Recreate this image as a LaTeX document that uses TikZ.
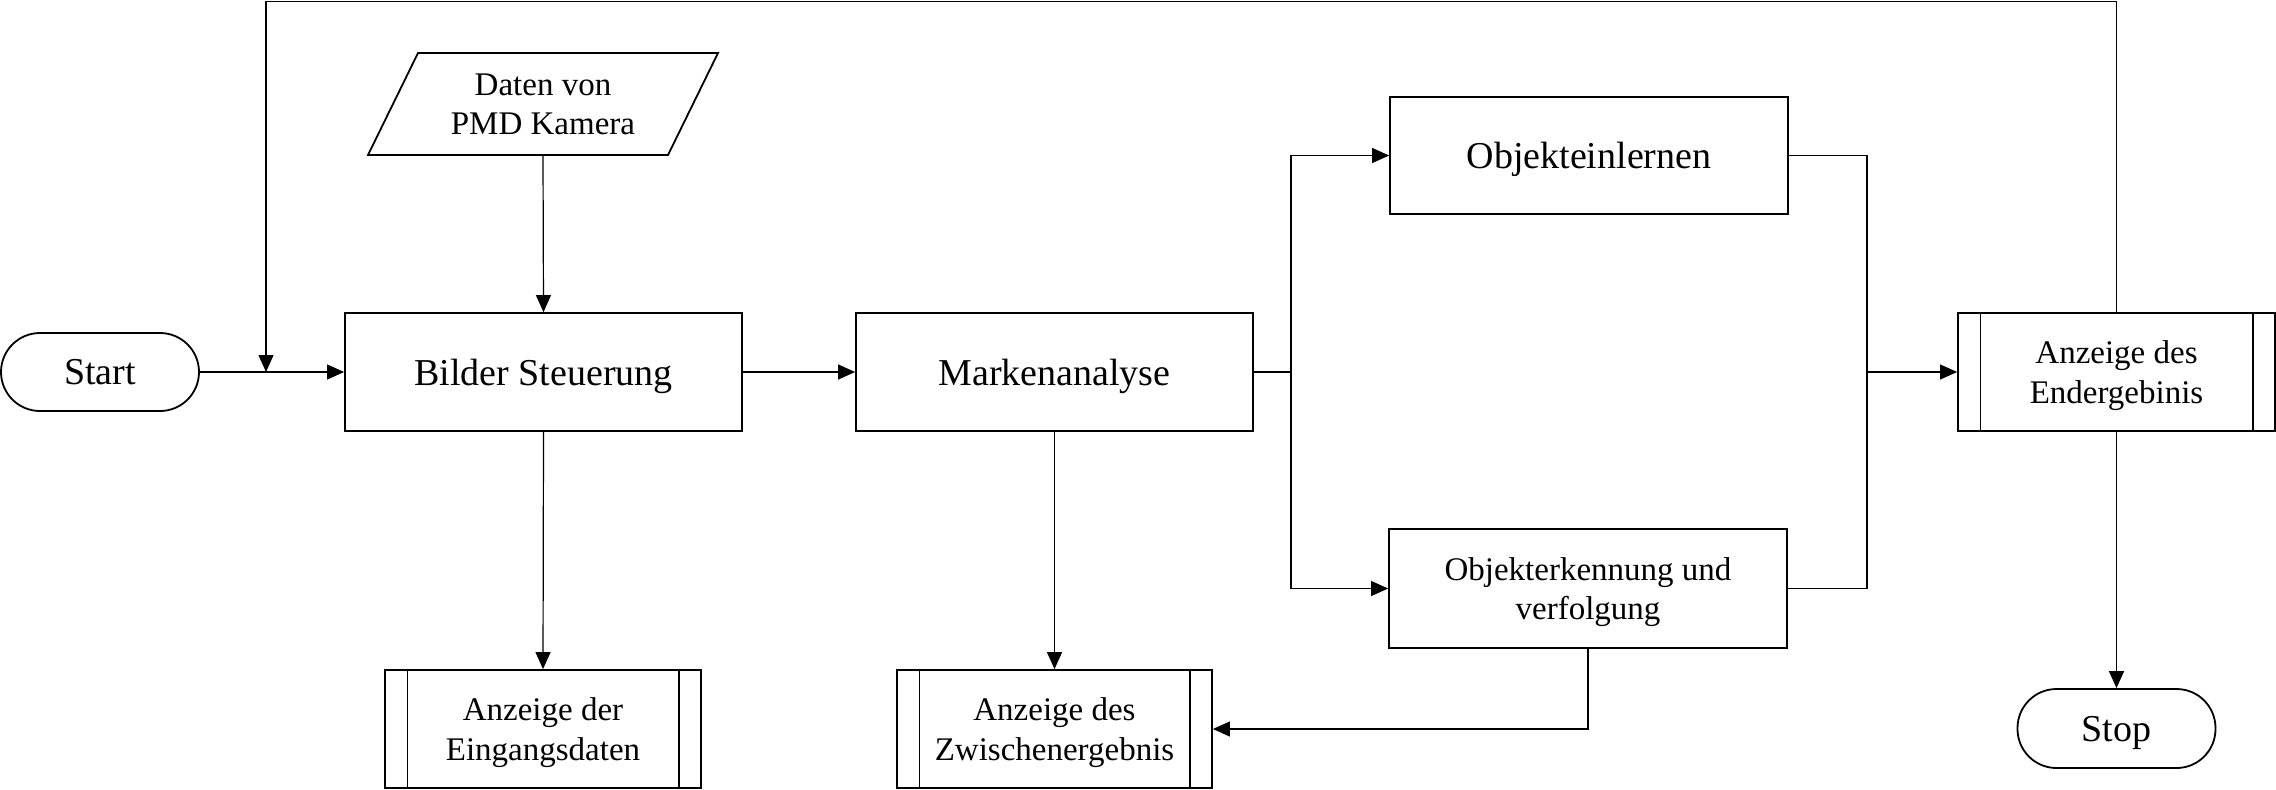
\documentclass[tikz,border=0pt]{standalone}
\usepackage{fontspec}
\setmainfont{Liberation Serif}
\usetikzlibrary{arrows.meta,calc}
\begin{document}
\begin{tikzpicture}[x=0.5pt,y=-0.5pt,
  bigtext/.style={font=\fontsize{19}{22}\selectfont, text depth=0pt},
  smalltext/.style={font=\fontsize{16.5}{19.75}\selectfont, text depth=0pt},
  proc/.style={draw, line width=0.9pt, inner sep=0pt, align=center},
  term/.style={draw, line width=0.9pt, rounded corners=19.5pt, inner sep=0pt, minimum width=99pt, align=center},
  conn/.style={line width=0.6pt},
  arr/.style={conn, -{Triangle[length=8.5pt,width=7.5pt]}}
]
\useasboundingbox (0,0) rectangle (2276,789);

% nodes
\node[term, bigtext, minimum height=39pt] (start) at (100,372) {Start};
\node[proc, bigtext, minimum width=198.5pt, minimum height=59pt] (bilder) at (543.5,372) {Bilder Steuerung};
\node[inner sep=0pt, smalltext, align=center, minimum width=150pt, minimum height=51pt] (daten) at (543,104) {Daten von\\PMD Kamera};
\draw[line width=0.9pt] ($(daten.center)+(-175,51)$) -- ($(daten.center)+(125,51)$) -- ($(daten.center)+(175,-51)$) -- ($(daten.center)+(-125,-51)$) -- cycle;
\node[proc, bigtext, minimum width=198.5pt, minimum height=59pt] (marken) at (1054.5,372) {Markenanalyse};
\node[proc, bigtext, minimum width=199pt, minimum height=58.5pt] (objlern) at (1589,155.5) {Objekteinlernen};
\node[proc, smalltext, minimum width=199pt, minimum height=59.5pt] (objerk) at (1588,588.5) {Objekterkennung und\\verfolgung};
\node[proc, smalltext, minimum width=158.5pt, minimum height=59pt] (endergeb) at (2116.5,372) {Anzeige des\\Endergebinis};
\node[proc, smalltext, minimum width=158pt, minimum height=59pt] (eingang) at (543,729) {Anzeige der\\Eingangsdaten};
\node[proc, smalltext, minimum width=157.5pt, minimum height=59pt] (zwischen) at (1054.5,729) {Anzeige des\\Zwischenergebnis};
\node[term, bigtext, minimum height=39.5pt] (stop) at (2116.5,728.5) {Stop};

\foreach \n in {eingang,zwischen,endergeb} {
  \draw[conn] ($(\n.north west)+(23,0)$) -- ($(\n.south west)+(23,0)$);
  \draw[conn] ($(\n.north east)+(-23,0)$) -- ($(\n.south east)+(-23,0)$);
}

% helper coordinates
\coordinate (looptop) at (266,1.5);
\coordinate (loopend) at (266,372);
\coordinate (branch) at (1291,372);
\coordinate (merge) at (1867,372);

% connectors
\draw[arr] (start.east) -- (bilder.west);
\draw[arr] (endergeb.north) |- (looptop) -- (loopend);
\draw[arr] (daten.south) -- (bilder.north);
\draw[arr] (bilder.east) -- (marken.west);
\draw[arr] (bilder.south) -- (eingang.north);
\draw[arr] (marken.south) -- (zwischen.north);
\draw[conn] (marken.east) -- (branch);
\draw[arr] (branch) |- (objlern.west);
\draw[arr] (branch) |- (objerk.west);
\draw[conn] (objlern.east) -| (merge) |- (objerk.east);
\draw[arr] (merge) -- (endergeb.west);
\draw[arr] (objerk.south) |- (zwischen.east);
\draw[arr] (endergeb.south) -- (stop.north);
\end{tikzpicture}
\end{document}
